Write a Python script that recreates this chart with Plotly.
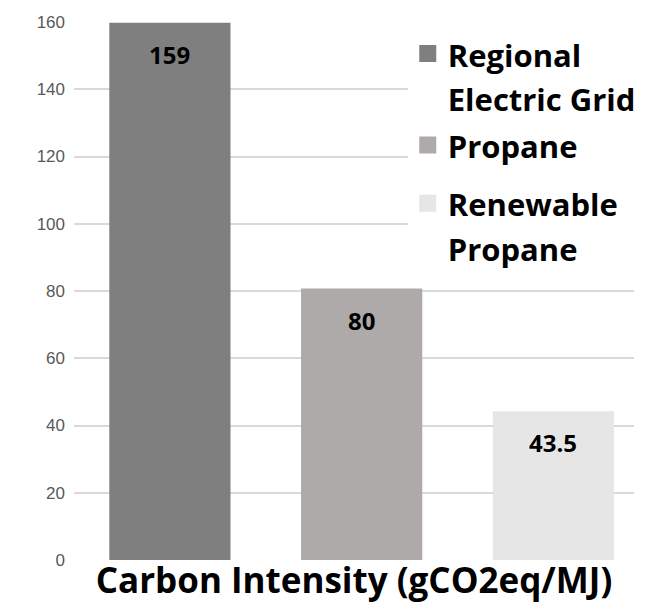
import plotly.graph_objects as go

categories = ["Regional Electric Grid", "Propane", "Renewable Propane"]
legend_names = ["Regional<br>Electric Grid", "Propane", "Renewable<br>Propane"]
legend_groups = ["g1", "g1", "g2"]
values = [159, 80, 43.5]
value_labels = ["159", "80", "43.5"]
colors = ["#7f7f7f", "#aeaaaa", "#e7e6e6"]
y_ticks = [0, 20, 40, 60, 80, 100, 120, 140, 160]
x_title = "Carbon Intensity (gCO2eq/MJ)"

fig = go.Figure()
for i, cat in enumerate(categories):
    name_html = "<br>".join(
        f"<span style='font-size:31px'>{part}</span>" for part in legend_names[i].split("<br>")
    )
    fig.add_trace(go.Bar(
        x=[cat], y=[values[i]], name=name_html,
        width=0.606,
        marker=dict(color=colors[i], line=dict(color=colors[i], width=5)),
        legendgroup=legend_groups[i],
        hoverinfo="skip",
    ))
    fig.add_annotation(
        x=cat, y=values[i], text=value_labels[i], showarrow=False,
        yanchor="middle", yshift=-29,
        font=dict(family="Open Sans", size=24, color="black", weight="bold"),
    )

fig.update_layout(
    width=645, height=602,
    margin=dict(l=66, r=15, t=14, b=50),
    paper_bgcolor="white", plot_bgcolor="white",
    barmode="overlay",
    showlegend=True,
    legend=dict(
        x=0.596, xanchor="left", y=1.0 - 3 / 538, yanchor="top",
        bgcolor="white", borderwidth=0,
        font=dict(family="Open Sans", size=34, color="black", weight="bold"),
        valign="top", tracegroupgap=11,
        traceorder="grouped",
    ),
    xaxis=dict(
        type="category", range=[-0.5, 2.42], automargin=False,
        showticklabels=False, showgrid=False, zeroline=False, showline=False,
        title=dict(text=x_title, standoff=8,
                   font=dict(family="Open Sans", size=35, color="black", weight="bold")),
    ),
    yaxis=dict(
        range=[0, 160], tickvals=y_ticks, showgrid=True, gridcolor="#d9d9d9", gridwidth=1.5,
        zeroline=False, showline=False, ticks="", ticklabelstandoff=8, automargin=False,
        tickfont=dict(family="Liberation Sans", size=17, color="#595959"),
    ),
)

fig.write_html("out.html")
